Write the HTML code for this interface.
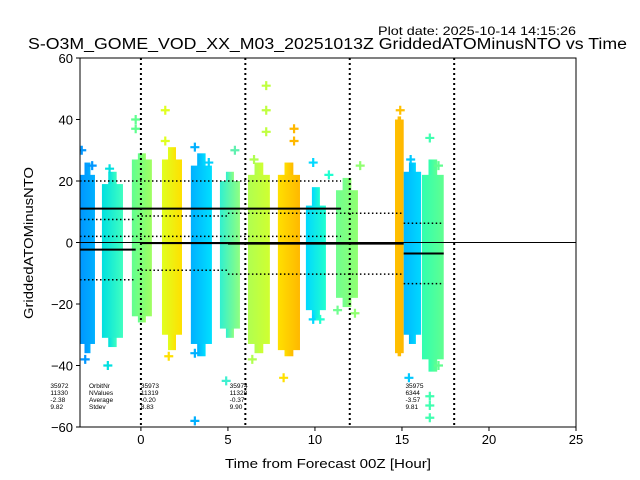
<!DOCTYPE html>
<html><head><meta charset="utf-8"><style>
body{margin:0;background:#fff;}
svg{display:block;font-family:"Liberation Sans","DejaVu Sans",sans-serif;}
</style></head><body>
<svg id="chart" width="640" height="480" viewBox="0 0 640 480"></svg>
<script>
const bandStart=[-3.5,-2.24,-0.52,1.21,2.87,4.54,6.15,7.87,9.48,11.21,14.6,15.1,16.15];
const bandEnd=[-2.64,-1.03,0.63,2.36,4.08,5.69,7.41,9.14,10.63,12.47,15.1,16.1,17.4];
const bandTop=[22,19,27,27,25,20,22,22,12,17,40,23,22];
const bandBottom=[-33,-31,-24,-30,-33,-28,-33,-35,-22,-18,-36,-30,-38];
const tipTop=[26,23,29,31,29,23,26,26,18,21,41,26,27];
const tipBottom=[-36,-34,-26,-35,-37,-31,-36,-37,-25,-21,-37,-33,-42];
const bandColorA=["#0096ff","#00e0e0","#60ff90","#e0ff20","#00b0ff","#30f0d0","#b0ff50","#ffe000","#00d8ff","#70ff90","#ffc000","#00b8ff","#30ffb0"];
const bandColorB=["#00b0ff","#40ffc0","#a0ff60","#ffe000","#00e0ff","#90ff80","#d0ff30","#ffb800","#20ffd0","#90ff70","#ffb800","#00d8ff","#60ff90"];
const outX=[-3.4,-2.8,-3.2,-1.9,-1.8,-0.3,-0.3,1.4,1.4,1.6,3.1,3.1,3.1,3.9,5.4,4.9,6.5,7.2,7.2,7.2,6.4,8.2,8.8,8.8,9.9,9.9,10.3,10.8,11.3,12.6,14.9,15.4,15.5,16.6,16.6,16.6,16.6,17.1,17.1,12.3];
const outY=[30,25,-38,-40,24,40,37,43,33,-37,31,-58,-36,26,30,-45,27,51,43,36,-38,-44,37,33,26,-25,-25,22,-22,25,43,-44,27,34,-53,-57,-50,-40,25,-23];
const outColor=["#0096ff","#0096ff","#0096ff","#00e0e0","#00e0e0","#60ff90","#60ff90","#e0ff20","#e0ff20","#ffe000","#00b0ff","#00b0ff","#00b0ff","#00d0ff","#60f0b0","#40f0d0","#b0ff50","#c0ff40","#c0ff40","#c0ff40","#b0ff50","#ffe000","#ffb800","#ffb800","#00d8ff","#00d8ff","#20ffd0","#20ffd0","#70ff90","#90ff70","#ffc000","#00c8ff","#00c8ff","#40ffb0","#40ffb0","#40ffb0","#40ffb0","#60ff90","#60ff90","#90ff70"];
const solidY=[11,-2.3,-0.2,-0.37,-3.57];
const solidX0=[-3.5,-3.5,0,5.0,15.1];
const solidX1=[11.5,-0.3,5.0,15.1,17.4];
const dotY=[20,2,7.5,-12.1,8.63,-9.03,9.53,-10.27,6.24,-13.38];
const dotX0=[-3.5,-3.5,-3.5,-3.5,-0.2,-0.2,5.0,5.0,15.1,15.1];
const dotX1=[11.5,11.5,-0.3,-0.3,5.0,5.0,15.1,15.1,17.4,17.4];
const vlines=[0,6,12,18];
const xTicks=[0,5,10,15,20,25];
const yTicks=[-60,-40,-20,0,20,40,60];
const orbitX=[-5.2,0,5.1,15.2];
const orbitNr=["35972","35973","35974","35975"];
const orbitN=["11330","11319","11328","6344"];
const orbitAvg=["-2.38","-0.20","-0.37","-3.57"];
const orbitSd=["9.82","8.83","9.90","9.81"];

const L=80,R=576,T=58,B=427,X0=-3.5,X1=25,Y0=-60,Y1=60;
const sx=v=>L+(v-X0)/(X1-X0)*(R-L);
const sy=v=>B-(v-Y0)/(Y1-Y0)*(B-T);
const svg=document.getElementById('chart');
const NS='http://www.w3.org/2000/svg';
function mk(tag,attrs,parent){const e=document.createElementNS(NS,tag);for(const k in attrs)e.setAttribute(k,attrs[k]);(parent||svg).appendChild(e);return e;}
const defs=mk('defs',{});
const clip=mk('clipPath',{id:'pc'},defs);mk('rect',{x:L,y:T,width:R-L,height:B-T},clip);
const plot=mk('g',{'clip-path':'url(#pc)'});



bandStart.forEach((s,i)=>{
  const g=mk('linearGradient',{id:'g'+i,x1:'0',x2:'1',y1:'0',y2:'0'},defs);
  mk('stop',{offset:'0','stop-color':bandColorA[i]},g);
  mk('stop',{offset:'1','stop-color':bandColorB[i]},g);
  const w=sx(bandEnd[i])-sx(s);
  // tapered tips for ragged look
  const tip=mk('rect',{x:sx(s)+w*0.3,y:sy(tipTop[i]),width:w*0.4,height:sy(tipBottom[i])-sy(tipTop[i]),fill:'url(#g'+i+')'},plot);
  
  
  const r=mk('rect',{x:sx(s),y:sy(bandTop[i]),width:w,height:sy(bandBottom[i])-sy(bandTop[i]),fill:'url(#g'+i+')'},plot);
  
  
});
outX.forEach((x,i)=>{
  const cx=sx(x),cy=sy(outY[i]);
  const p=mk('path',{d:`M${cx-4.5},${cy}H${cx+4.5}M${cx},${cy-4.5}V${cy+4.5}`,stroke:outColor[i],'stroke-width':2.2,fill:'none'},plot);
  
  
});
const zl=mk('line',{x1:L,x2:R,y1:sy(0),y2:sy(0),stroke:'#000','stroke-width':1},plot);


solidY.forEach((y,i)=>{
  const l=mk('line',{x1:sx(solidX0[i]),x2:sx(solidX1[i]),y1:sy(y),y2:sy(y),stroke:'#000','stroke-width':2},plot);
  
  
});
dotY.forEach((y,i)=>{
  const l=mk('line',{x1:sx(dotX0[i]),x2:sx(dotX1[i]),y1:sy(y),y2:sy(y),stroke:'#000','stroke-width':1.5,'stroke-dasharray':'1.5,2.5'},plot);
  
  
});
vlines.forEach(v=>{
  const l=mk('line',{x1:sx(v),x2:sx(v),y1:T,y2:B,stroke:'#000','stroke-width':2,'stroke-dasharray':'2,3'},plot);
  
  
});
const stat=(x,y,t,nm)=>{const e=mk('text',{x:x,y:y,'font-size':6.5,fill:'#000'});e.textContent=t;};
['OrbitNr','NValues','Average','Stdev'].forEach((t,j)=>stat(89,388+j*7,t,'stats-label'));
orbitX.forEach((x,i)=>{
  const px=Math.max(49,sx(x));
  stat(px,388,orbitNr[i],'orbit-number');stat(px,395,orbitN[i],'orbit-nvalues');
  stat(px,402,orbitAvg[i],'orbit-average');stat(px,409,orbitSd[i],'orbit-stdev');
});
const frame=mk('rect',{x:L,y:T,width:R-L,height:B-T,fill:'none',stroke:'#000','stroke-width':1});


xTicks.forEach(v=>{
  mk('line',{x1:sx(v),x2:sx(v),y1:B,y2:B+4,stroke:'#000'});
  const t=mk('text',{x:sx(v),y:B+17,'font-size':13,'text-anchor':'middle'});t.textContent=v;
  
  
});
yTicks.forEach(v=>{
  mk('line',{x1:L-4,x2:L,y1:sy(v),y2:sy(v),stroke:'#000'});
  const t=mk('text',{x:L-7,y:sy(v)+5,'font-size':13,'text-anchor':'end'});t.textContent=v<0?'\u2212'+(-v):v;
  
  
});
const xt=mk('text',{x:328,y:468,'font-size':13,'text-anchor':'middle',textLength:206,lengthAdjust:'spacingAndGlyphs'});xt.textContent='Time from Forecast 00Z [Hour]';


const yt=mk('text',{x:0,y:0,'font-size':13,'text-anchor':'middle',textLength:152,lengthAdjust:'spacingAndGlyphs',transform:`translate(33,243) rotate(-90)`});yt.textContent='GriddedATOMinusNTO';


const tt=mk('text',{x:28,y:49,'font-size':15.5,textLength:599,lengthAdjust:'spacingAndGlyphs'});tt.textContent='S-O3M_GOME_VOD_XX_M03_20251013Z GriddedATOMinusNTO vs Time';


const pd=mk('text',{x:378,y:35,'font-size':12,textLength:198,lengthAdjust:'spacingAndGlyphs'});pd.textContent='Plot date: 2025-10-14 14:15:26';


</script>
</body></html>
